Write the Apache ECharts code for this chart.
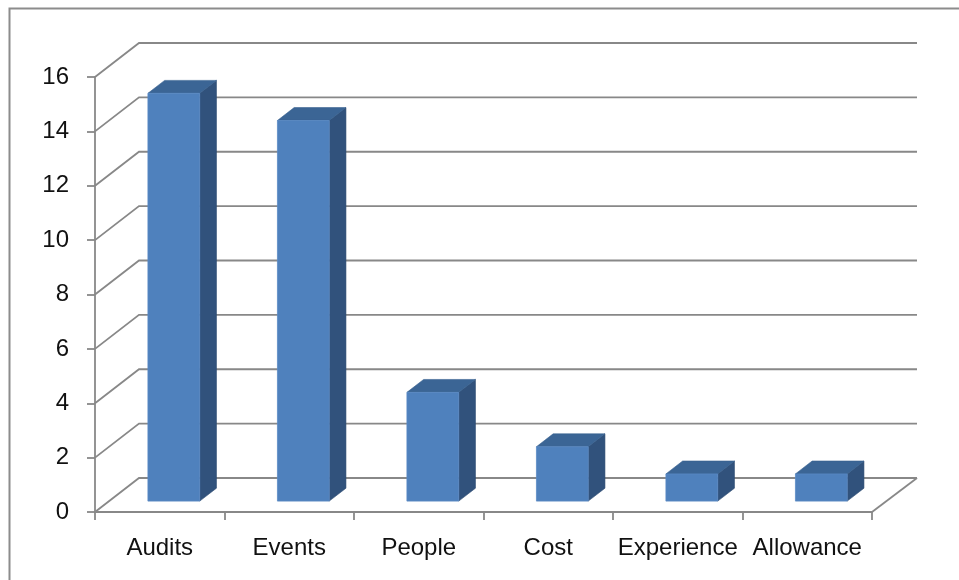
<!DOCTYPE html>
<html>
<head>
<meta charset="utf-8">
<script src="https://cdn.jsdelivr.net/npm/echarts@6/dist/echarts.min.js"></script>
<style>
html,body{margin:0;padding:0;background:#fff;}
#chart{width:959px;height:580px;}
</style>
</head>
<body>
<div id="chart"></div>
<script>
var categories = ['Audits', 'Events', 'People', 'Cost', 'Experience', 'Allowance'];
var counts = [15, 14, 4, 2, 1, 1];
var yTicks = [0, 2, 4, 6, 8, 10, 12, 14, 16];

// perspective settings (style only)
var DEPTH_X = 44, DEPTH_Y = 34;
var F0 = 0.32, F1 = 0.70, BAR_W = 0.4;
var GRID_COLOR = '#888888';
var FONT = 'Liberation Sans, Arial, sans-serif';

var chart = echarts.init(document.getElementById('chart'), null, {renderer: 'canvas'});

function wallItem(params, api) {
  var cs = params.coordSys;
  var p = api.coord([0, api.value(1)]);
  var y = p[1];
  var x0 = cs.x, x1 = cs.x + cs.width;
  var children = [{
    type: 'polyline',
    shape: {points: [[x0, y], [x0 + DEPTH_X, y - DEPTH_Y], [x1 + DEPTH_X + 1, y - DEPTH_Y]]},
    style: {stroke: GRID_COLOR, lineWidth: 1.8, fill: null}
  }];
  if (api.value(1) === 0) {
    children.push({
      type: 'line',
      shape: {x1: x1, y1: y, x2: x1 + DEPTH_X + 1, y2: y - DEPTH_Y},
      style: {stroke: GRID_COLOR, lineWidth: 1.8}
    });
  }
  return {type: 'group', children: children};
}

function barItem(params, api) {
  var idx = api.value(0);
  var base = api.coord([idx, 0]);
  var top = api.coord([idx, api.value(1)]);
  var band = api.size([1, 0])[0];
  var bw = band * BAR_W;
  var xl = base[0] - bw / 2 + F0 * DEPTH_X;
  var xr = xl + bw;
  var yb = base[1] - F0 * DEPTH_Y;
  var yt = top[1] - F0 * DEPTH_Y;
  var ddx = (F1 - F0) * DEPTH_X, ddy = (F1 - F0) * DEPTH_Y;
  return {
    type: 'group',
    children: [
      {type: 'polygon', shape: {points: [[xr, yt], [xr + ddx, yt - ddy], [xr + ddx, yb - ddy], [xr, yb]]},
        style: {fill: '#31527c', stroke: '#2c4a70', lineWidth: 0.6}},
      {type: 'polygon', shape: {points: [[xl, yt], [xl + ddx, yt - ddy], [xr + ddx, yt - ddy], [xr, yt]]},
        style: {fill: '#3b6595', stroke: '#35608f', lineWidth: 0.6}},
      {type: 'rect', shape: {x: xl, y: yt, width: bw, height: yb - yt},
        style: {fill: '#4f81bd', stroke: '#5a8ac4', lineWidth: 0.8}}
    ]
  };
}

chart.setOption({
  animation: false,
  backgroundColor: '#ffffff',
  graphic: [{
    type: 'rect', left: 7, top: 6,
    shape: {x: 0, y: 0, width: 1000, height: 1000},
    style: {fill: null, stroke: '#8c8c8c', lineWidth: 2},
    silent: true, z: 100
  }],
  grid: {left: 95, right: 87, top: 77, bottom: 68, containLabel: false},
  xAxis: {
    type: 'category',
    data: categories,
    boundaryGap: true,
    axisLine: {show: true, lineStyle: {color: GRID_COLOR, width: 1.8}},
    axisTick: {show: true, length: 8, inside: false, alignWithLabel: false, lineStyle: {color: GRID_COLOR, width: 1.8}},
    axisLabel: {color: '#111111', fontSize: 24, fontFamily: FONT, margin: 24, interval: 0},
    splitLine: {show: false}
  },
  yAxis: {
    type: 'value',
    min: 0, max: 16, interval: 2,
    axisLine: {show: true, lineStyle: {color: GRID_COLOR, width: 1.8}},
    axisTick: {show: true, length: 8, inside: false, lineStyle: {color: GRID_COLOR, width: 1.8}},
    axisLabel: {color: '#111111', fontSize: 24, fontFamily: FONT, margin: 26},
    splitLine: {show: false}
  },
  series: [
    {
      type: 'custom',
      renderItem: wallItem,
      data: yTicks.map(function (v) { return [0, v]; }),
      encode: {x: 0, y: 1},
      silent: true,
      z: 1
    },
    {
      type: 'custom',
      renderItem: barItem,
      data: counts.map(function (v, i) { return [i, v]; }),
      encode: {x: 0, y: 1},
      z: 3
    }
  ]
});
</script>
</body>
</html>
